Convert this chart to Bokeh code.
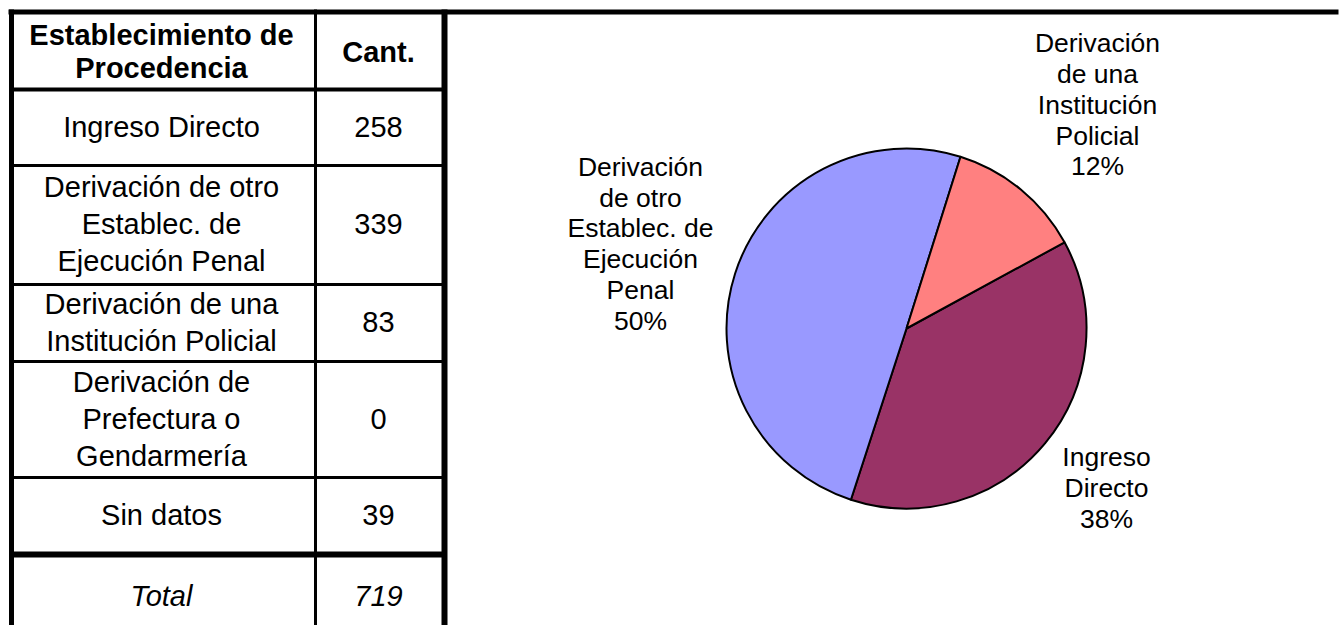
from bokeh.plotting import figure
from bokeh.models import Range1d
from bokeh.core.properties import value
from bokeh.embed import file_html
from bokeh.resources import INLINE
import math

# ---------------- data ----------------
header = ["Establecimiento de\nProcedencia", "Cant."]
categories = [
    "Ingreso Directo",
    "Derivación de otro\nEstablec. de\nEjecución Penal",
    "Derivación de una\nInstitución Policial",
    "Derivación de\nPrefectura o\nGendarmería",
    "Sin datos",
]
counts = [258, 339, 83, 0, 39]
total_label = "Total"
total_value = 719

pie_labels = ["Ingreso\nDirecto", "Derivación\nde otro\nEstablec. de\nEjecución\nPenal",
              "Derivación\nde una\nInstitución\nPolicial"]
pie_values = [258, 339, 83]
pie_colors = ["#993366", "#9999FF", "#FF8080"]

# ---------------- layout ----------------
W, H = 1340, 625
def Y(s):  # screen y (from top) -> data y
    return H - s

p = figure(width=W, height=H, x_range=Range1d(0, W), y_range=Range1d(0, H),
           output_backend="svg", toolbar_location=None, min_border=0)
p.axis.visible = False
p.grid.visible = False
p.outline_line_color = None
p.background_fill_color = "white"
p.border_fill_color = "white"

FONT = value("Liberation Sans")

# table borders
col_x = [11, 315, 444]
col_w = [5, 3, 6]
row_y = [11.5, 89, 165, 284, 361, 477, 554]
row_w = [5, 4, 3, 3, 3, 3, 6]

p.segment(x0=[8], y0=[Y(row_y[0])], x1=[1338], y1=[Y(row_y[0])],
          line_color="black", line_width=row_w[0], line_cap="butt")
for y, w in zip(row_y[1:], row_w[1:]):
    p.segment(x0=[col_x[0]], y0=[Y(y)], x1=[col_x[-1]], y1=[Y(y)],
              line_color="black", line_width=w, line_cap="butt")
for x, w in zip(col_x, col_w):
    p.segment(x0=[x], y0=[Y(9)], x1=[x], y1=[Y(640)],
              line_color="black", line_width=w, line_cap="butt")

TX1, TX2 = 161, 378
TFS = 29
LS = 37

def add_lines(xc, yc, txt, size, spacing, style="normal"):
    lines = txt.split("\n")
    n = len(lines)
    xs, ys, ts = [], [], []
    for i, ln in enumerate(lines):
        c = yc + (i - (n - 1) / 2) * spacing
        xs.append(xc)
        ys.append(Y(c - 0.03 * size))
        ts.append(ln)
    p.text(x=xs, y=ys, text=ts, text_font=FONT, text_font_size=f"{size}px",
           text_align="center", text_baseline="alphabetic", text_color="black",
           text_font_style=style)

# header
add_lines(TX1, 51.5, header[0], TFS, 33, "bold")
add_lines(TX2, 52, header[1], TFS, 33, "bold")

row_mid = [(row_y[i] + row_y[i + 1]) / 2 for i in range(1, len(row_y) - 1)]
for cat, cnt, ym in zip(categories, counts, row_mid):
    add_lines(TX1, ym, cat, TFS, LS)
    add_lines(TX2, ym, str(cnt), TFS, LS)
add_lines(TX1, 596, total_label, TFS, LS, "italic")
add_lines(TX2, 596, str(total_value), TFS, LS, "italic")

# ---------------- pie ----------------
CX, CY, R = 906, 328, 180
start_cw = 61.4  # degrees clockwise from 12 o'clock where the first slice starts
tot = sum(pie_values)
starts, ends = [], []
a = start_cw
for v in pie_values:
    sweep = 360.0 * v / tot
    starts.append(math.radians(90 - a))
    ends.append(math.radians(90 - (a + sweep)))
    a += sweep
p.wedge(x=[CX] * len(pie_values), y=[Y(CY)] * len(pie_values), radius=R,
        radius_units="screen", start_angle=starts, end_angle=ends, direction="clock",
        fill_color=pie_colors, line_color="black", line_width=2)

LFS = 26.5
label_pos = [(1106, 488), (640, 244), (1097, 105)]
for lab, v, (lx, ly) in zip(pie_labels, pie_values, label_pos):
    pct = f"{round(100 * v / tot)}%"
    add_lines(lx, ly, lab + "\n" + pct, LFS, 30.8)

open("out.html", "w").write(file_html(p, INLINE))
